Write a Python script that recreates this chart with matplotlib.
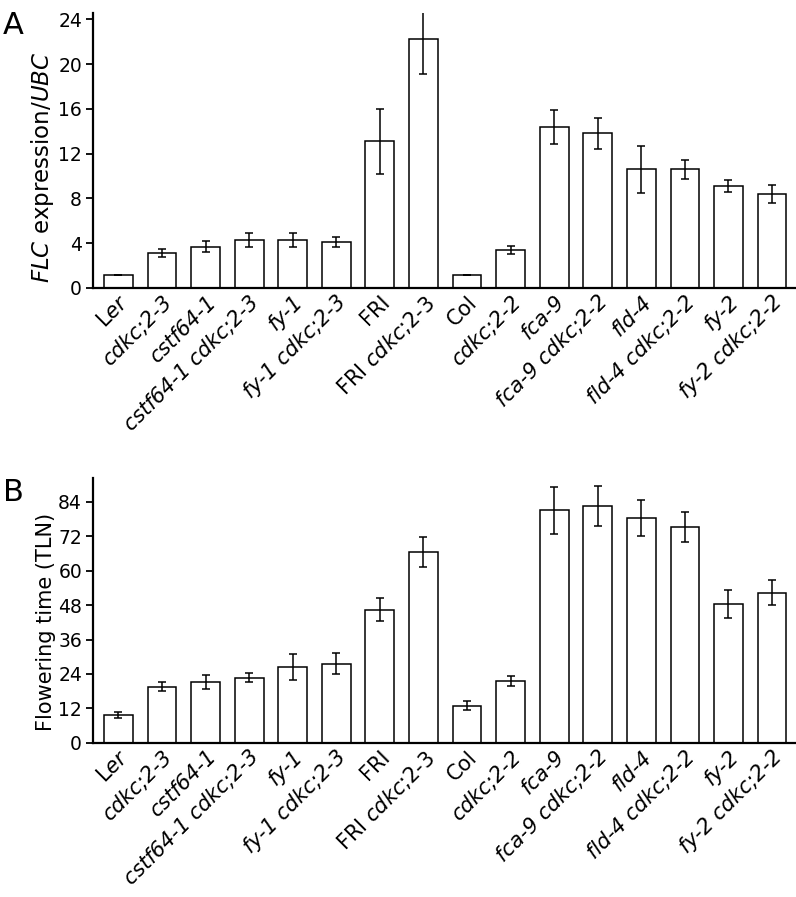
import numpy as np
import matplotlib
matplotlib.use("Agg")
import matplotlib.pyplot as plt

plt.rcParams['font.family'] = ['DejaVu Sans']
plt.rcParams['mathtext.fontset'] = 'dejavusans'

# genotype labels (mathtext for mixed italic / upright)
labels = [
    r'L$\mathit{er}$', 'cdkc;2-3', 'cstf64-1', 'cstf64-1 cdkc;2-3', 'fy-1',
    'fy-1 cdkc;2-3', 'FRI', r'FRI $\mathit{cdkc}$;$\mathit{2}$-$\mathit{3}$',
    'Col', 'cdkc;2-2', 'fca-9', 'fca-9 cdkc;2-2', 'fld-4', 'fld-4 cdkc;2-2',
    'fy-2', 'fy-2 cdkc;2-2',
]
italic = [False, True, True, True, True, True, False, False,
          False, True, True, True, True, True, True, True]

# panel A: FLC expression / UBC
flc = [1.2, 3.1, 3.7, 4.3, 4.3, 4.1, 13.1, 22.2,
       1.2, 3.4, 14.4, 13.8, 10.6, 10.6, 9.1, 8.4]
flc_err = [0, 0.38, 0.45, 0.6, 0.6, 0.45, 2.9, 3.1,
           0, 0.35, 1.5, 1.4, 2.1, 0.85, 0.55, 0.8]

# panel B: flowering time (total leaf number)
tln = [9.7, 19.6, 21.2, 22.7, 26.4, 27.5, 46.4, 66.6,
       12.9, 21.4, 81.0, 82.6, 78.4, 75.3, 48.3, 52.3]
tln_err = [1.1, 1.7, 2.3, 1.5, 4.5, 3.7, 4.0, 5.2,
           1.5, 1.7, 8.2, 7.0, 6.2, 5.3, 4.9, 4.3]

fig = plt.figure(figsize=(7.96, 8.97), dpi=100)
axA = fig.add_axes([0.117, 0.679, 0.883, 0.307])
axB = fig.add_axes([0.117, 0.172, 0.883, 0.295])

x = np.arange(len(labels))


def draw(ax, vals, errs, ymax, ticks, ylabel, ylabel_size, ylabel_y):
    ax.bar(x, vals, width=0.66, color='white', edgecolor='black', linewidth=1.1, zorder=2)
    ax.errorbar(x, vals, yerr=errs, fmt='none', ecolor='black', elinewidth=1.1,
                capsize=3, capthick=1.1, zorder=3)
    ax.set_xlim(-0.58, 15.55)
    ax.set_ylim(0, ymax)
    ax.set_yticks(ticks)
    ax.spines['top'].set_visible(False)
    ax.spines['right'].set_visible(False)
    ax.spines['left'].set_linewidth(1.6)
    ax.spines['bottom'].set_linewidth(1.6)
    ax.tick_params(axis='y', length=5, width=1.3, labelsize=13.5, pad=3)
    ax.tick_params(axis='x', length=0, pad=3)
    ax.set_xticks(x)
    ax.set_xticklabels(labels, rotation=45, ha='right', rotation_mode='anchor', fontsize=15)
    for t, it in zip(ax.get_xticklabels(), italic):
        if it:
            t.set_fontstyle('italic')
    ax.set_ylabel(ylabel, fontsize=ylabel_size)
    ax.yaxis.set_label_coords(-0.053, ylabel_y)


draw(axA, flc, flc_err, 24.6, range(0, 25, 4),
     r'$\mathit{FLC}$ expression/$\mathit{UBC}$', 16.5, 0.44)
draw(axB, tln, tln_err, 92.3, range(0, 85, 12), 'Flowering time (TLN)', 15, 0.457)

fig.text(0.004, 0.988, 'A', fontsize=22, va='top', ha='left')
fig.text(0.004, 0.467, 'B', fontsize=22, va='top', ha='left')

fig.savefig('out.png', dpi=100)
